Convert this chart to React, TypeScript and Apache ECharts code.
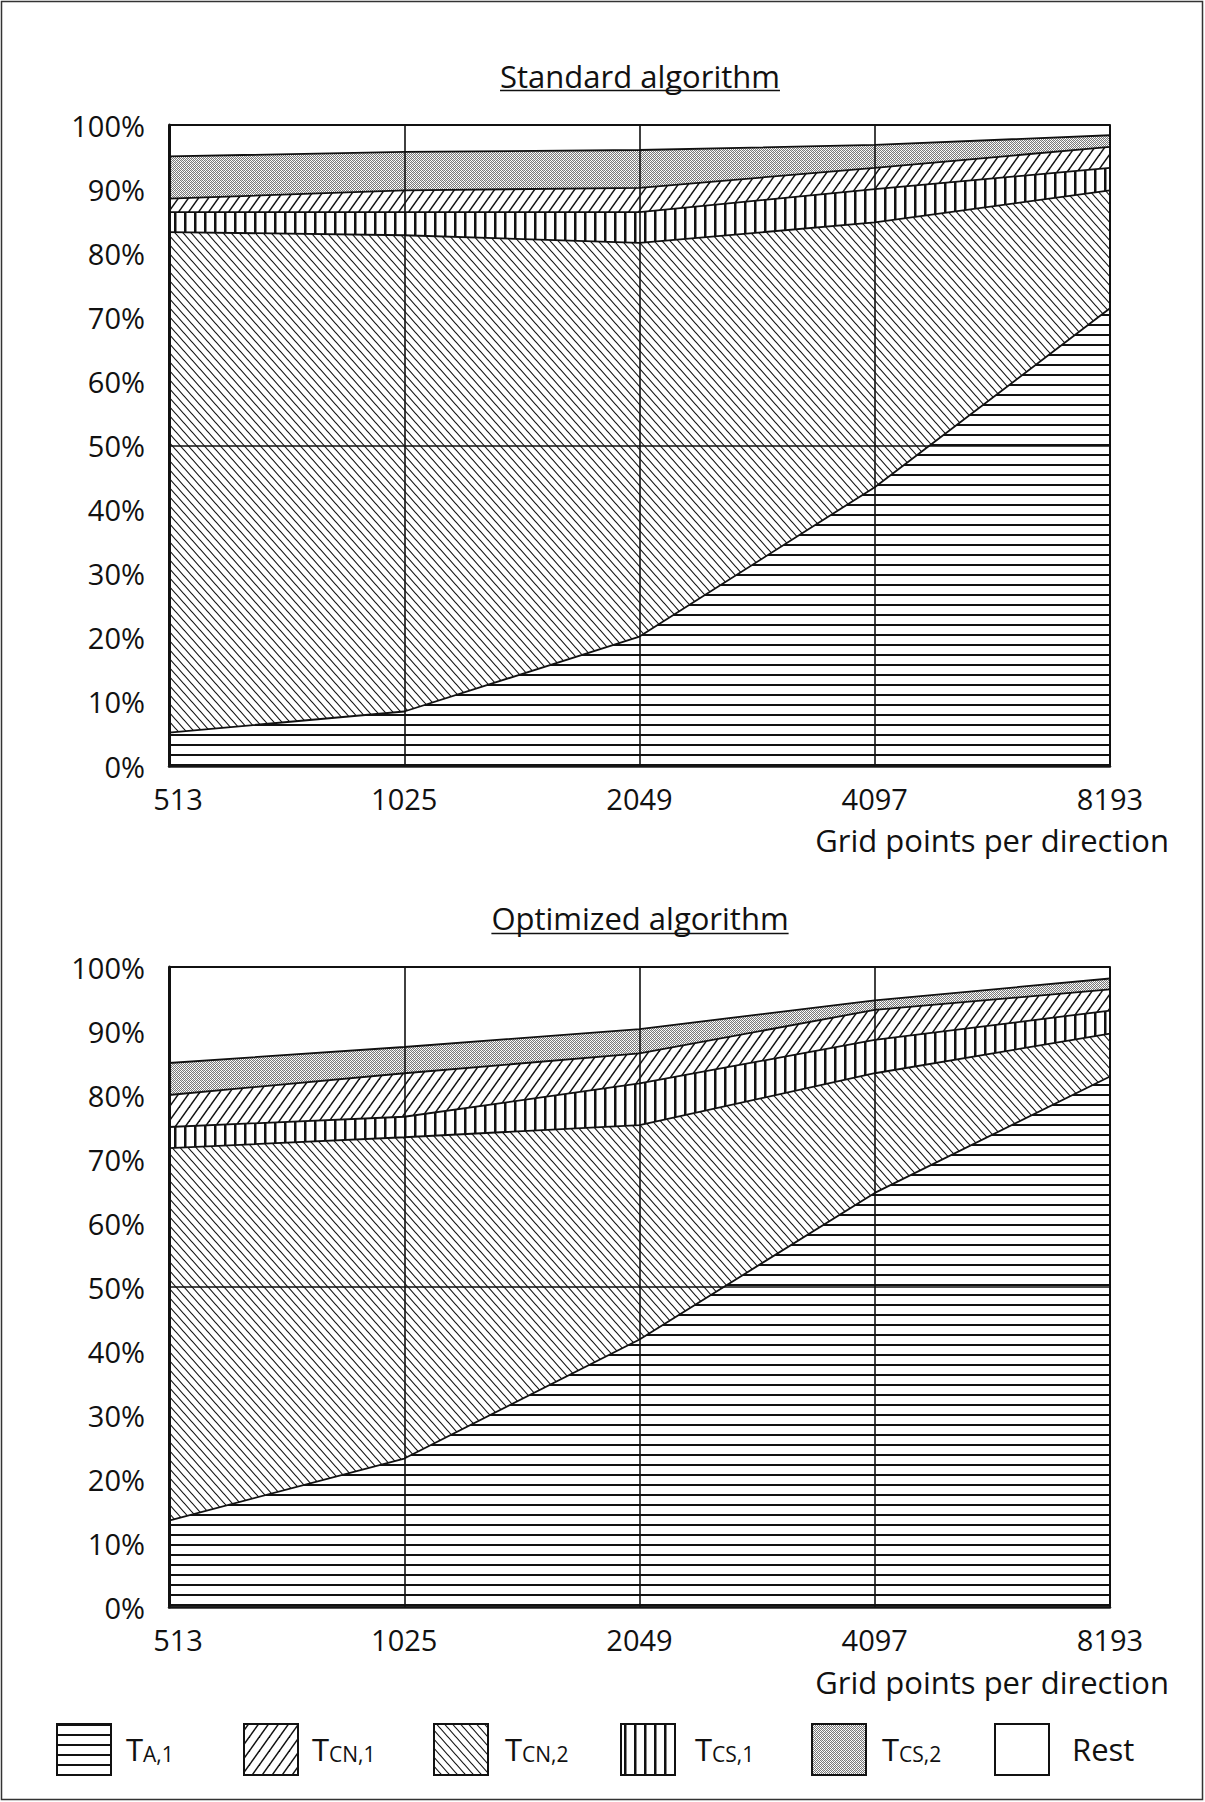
import React, { useEffect, useRef } from 'react';
import * as echarts from 'echarts';

// ---------- data (percent of total run time) ----------
const categories = ['513', '1025', '2049', '4097', '8193'];

const stdA1 = [5.2, 8.5, 20.2, 43.5, 71.4];
const stdCN2 = [78.1, 74.3, 61.4, 41.3, 18.4];
const stdCS1 = [3.1, 3.6, 4.8, 5.2, 3.5];
const stdCN1 = [2.1, 3.4, 3.8, 3.3, 3.3];
const stdCS2 = [6.6, 6.0, 5.9, 3.6, 1.8];
const stdRest = [4.9, 4.2, 3.9, 3.1, 1.6];

const optA1 = [13.5, 23.2, 41.8, 64.7, 82.9];
const optCN2 = [58.2, 50.2, 33.5, 18.7, 6.7];
const optCS1 = [3.3, 3.2, 6.5, 5.2, 3.6];
const optCN1 = [5.0, 6.8, 4.7, 4.7, 3.3];
const optCS2 = [5.0, 4.1, 3.8, 1.5, 1.7];
const optRest = [15.0, 12.5, 9.7, 5.2, 1.8];

const titles = ['Standard algorithm', 'Optimized algorithm'];
const xAxisName = 'Grid points per direction';

// legend order as printed: [main letter, subscript, pattern key]
const legendItems: [string, string, string][] = [
  ['T', 'A,1', 'hl'],
  ['T', 'CN,1', 'fs'],
  ['T', 'CN,2', 'bs'],
  ['T', 'CS,1', 'vb'],
  ['T', 'CS,2', 'dt'],
  ['Rest', '', 'white'],
];

const FONT = '"Open Sans", "Noto Sans", sans-serif';
const INK = '#111111';

function tile(w: number, h: number, draw: (ctx: CanvasRenderingContext2D) => void) {
  const c = document.createElement('canvas');
  c.width = w;
  c.height = h;
  const ctx = c.getContext('2d') as CanvasRenderingContext2D;
  ctx.fillStyle = '#ffffff';
  ctx.fillRect(0, 0, w, h);
  ctx.fillStyle = INK;
  ctx.strokeStyle = INK;
  draw(ctx);
  return { image: c.toDataURL('image/png'), repeat: 'repeat', imageWidth: w, imageHeight: h };
}

function makePatterns(): Record<string, any> {
  return {
    hl: tile(20, 10, (ctx) => ctx.fillRect(0, 4, 20, 2)),
    bs: tile(8, 9, (ctx) => {
      ctx.lineWidth = 1.1;
      for (const dx of [-8, 0, 8]) {
        ctx.beginPath();
        ctx.moveTo(dx - 8, -9);
        ctx.lineTo(dx + 16, 18);
        ctx.stroke();
      }
    }),
    fs: tile(10, 14, (ctx) => {
      ctx.lineWidth = 1.5;
      for (const dx of [-10, 0, 10]) {
        ctx.beginPath();
        ctx.moveTo(dx - 10, 28);
        ctx.lineTo(dx + 20, -14);
        ctx.stroke();
      }
    }),
    vb: tile(10, 10, (ctx) => ctx.fillRect(4, 0, 2.5, 10)),
    dt: tile(4, 4, (ctx) => {
      ctx.fillStyle = '#7a7a7a';
      ctx.fillRect(0, 0, 1, 1);
      ctx.fillRect(2, 0, 1, 1);
      ctx.fillRect(1, 1, 1, 1);
      ctx.fillRect(3, 1, 1, 1);
      ctx.fillRect(0, 2, 1, 1);
      ctx.fillRect(2, 2, 1, 1);
      ctx.fillRect(1, 3, 1, 1);
      ctx.fillRect(3, 3, 1, 1);
      ctx.fillStyle = '#d8d8d8';
      ctx.fillRect(1, 0, 1, 1);
      ctx.fillRect(3, 2, 1, 1);
    }),
    white: '#ffffff',
  };
}

export default function App() {
  const ref = useRef<HTMLDivElement>(null);

  useEffect(() => {
    if (!ref.current) return;
    const chart = echarts.init(ref.current, undefined, { renderer: 'svg' });
    const P = makePatterns();

    const grids = [
      { left: 169, top: 125, width: 941, height: 641 },
      { left: 169, top: 967, width: 941, height: 640 },
    ];

    const xAxes: any[] = [];
    const yAxes: any[] = [];
    grids.forEach((_, gi) => {
      xAxes.push({
        type: 'category',
        gridIndex: gi,
        data: categories,
        boundaryGap: false,
        z: 10,
        axisLine: { show: true, lineStyle: { color: '#222', width: 2.5 } },
        axisTick: { show: false },
        axisLabel: {
          fontSize: 29,
          fontFamily: FONT,
          color: INK,
          margin: 18,
          formatter: (v: string, i: number) => (i === 0 ? '{f|' + v + '}' : v),
          rich: { f: { fontSize: 29, fontFamily: FONT, color: INK, padding: [0, 0, 0, 18] } },
        },
        splitLine: { show: true, lineStyle: { color: INK, width: 1.6 } },
      });
      xAxes.push({
        type: 'category',
        gridIndex: gi,
        position: 'top',
        data: categories,
        boundaryGap: false,
        z: 10,
        axisLine: { show: true, lineStyle: { color: INK, width: 1.6 } },
        axisTick: { show: false },
        axisLabel: { show: false },
        splitLine: { show: false },
      });
      const splitColors = new Array(11).fill('rgba(0,0,0,0)');
      splitColors[5] = INK;
      yAxes.push({
        type: 'value',
        gridIndex: gi,
        min: 0,
        max: 100,
        interval: 10,
        z: 10,
        axisLine: { show: true, lineStyle: { color: INK, width: 3 } },
        axisTick: { show: false },
        axisLabel: { fontSize: 29, fontFamily: FONT, color: INK, margin: 24, formatter: '{value}%' },
        splitLine: { show: true, lineStyle: { color: splitColors, width: 1.6 } },
      });
      yAxes.push({
        type: 'value',
        gridIndex: gi,
        position: 'right',
        min: 0,
        max: 100,
        z: 10,
        axisLine: { show: true, lineStyle: { color: INK, width: 2 } },
        axisTick: { show: false },
        axisLabel: { show: false },
        splitLine: { show: false },
      });
    });

    const stackLayers = [
      { name: 'TA,1', pat: 'hl', data: [stdA1, optA1] },
      { name: 'TCN,2', pat: 'bs', data: [stdCN2, optCN2] },
      { name: 'TCS,1', pat: 'vb', data: [stdCS1, optCS1] },
      { name: 'TCN,1', pat: 'fs', data: [stdCN1, optCN1] },
      { name: 'TCS,2', pat: 'dt', data: [stdCS2, optCS2] },
      { name: 'Rest', pat: 'white', data: [stdRest, optRest] },
    ];

    const series: any[] = [];
    [0, 1].forEach((gi) => {
      stackLayers.forEach((layer, li) => {
        series.push({
          type: 'line',
          name: layer.name,
          xAxisIndex: gi * 2,
          yAxisIndex: gi * 2,
          stack: 'g' + gi,
          data: layer.data[gi],
          symbol: 'none',
          showSymbol: false,
          silent: true,
          z: 8 - li,
          lineStyle: { color: INK, width: 1.8 },
          itemStyle: { color: INK },
          areaStyle: { color: P[layer.pat], opacity: 1 },
          emphasis: { disabled: true },
        });
      });
    });

    // measure title widths for the underline
    const mctx = document.createElement('canvas').getContext('2d') as CanvasRenderingContext2D;
    mctx.font = '31px "Open Sans"';
    const titleY = [76, 918];
    const underlineY = [90.5, 933.5];
    const nameY = [840, 1682];

    const graphic: any[] = [
      {
        type: 'rect',
        shape: { x: 1.5, y: 1.5, width: 1201, height: 1798 },
        style: { fill: 'none', stroke: '#333', lineWidth: 1.5 },
        z: 100,
      },
    ];
    titles.forEach((t, i) => {
      const w = mctx.measureText(t).width;
      graphic.push({
        type: 'text',
        x: 640,
        y: titleY[i],
        style: { text: t, fontSize: 31, fontFamily: FONT, fill: INK, align: 'center', verticalAlign: 'middle' },
        z: 100,
      });
      graphic.push({
        type: 'line',
        shape: { x1: 640 - w / 2, y1: underlineY[i], x2: 640 + w / 2, y2: underlineY[i] },
        style: { stroke: INK, lineWidth: 1.5 },
        z: 100,
      });
      graphic.push({
        type: 'text',
        x: 1169,
        y: nameY[i],
        style: { text: xAxisName, fontSize: 31, fontFamily: FONT, fill: INK, align: 'right', verticalAlign: 'middle' },
        z: 100,
      });
    });

    const boxX = [57, 244, 434, 621, 812, 995];
    const labelX = [126, 312, 505, 695, 882, 1072];
    legendItems.forEach((it, i) => {
      graphic.push({
        type: 'rect',
        shape: { x: boxX[i], y: 1724, width: 54, height: 51 },
        style: { fill: P[it[2]], stroke: INK, lineWidth: 2 },
        z: 100,
      });
      graphic.push({
        type: 'text',
        x: labelX[i],
        y: 1749,
        style: {
          text: it[1] ? '{t|' + it[0] + '}{s|' + it[1] + '}' : '{t|' + it[0] + '}',
          rich: {
            t: { fontSize: 31, fontFamily: FONT, fill: INK, color: INK },
            s: { fontSize: 21, fontFamily: FONT, fill: INK, color: INK, verticalAlign: 'bottom' },
          },
          align: 'left',
          verticalAlign: 'middle',
        },
        z: 100,
      });
    });

    chart.setOption({
      animation: false,
      backgroundColor: '#ffffff',
      grid: grids.map((g) => ({ ...g, containLabel: false, show: false })),
      xAxis: xAxes,
      yAxis: yAxes,
      series,
      graphic,
    });

    return () => chart.dispose();
  }, []);

  return (
    <div
      ref={ref}
      style={{ position: 'absolute', left: 0, top: 0, width: 1205, height: 1802, background: '#fff' }}
    />
  );
}
